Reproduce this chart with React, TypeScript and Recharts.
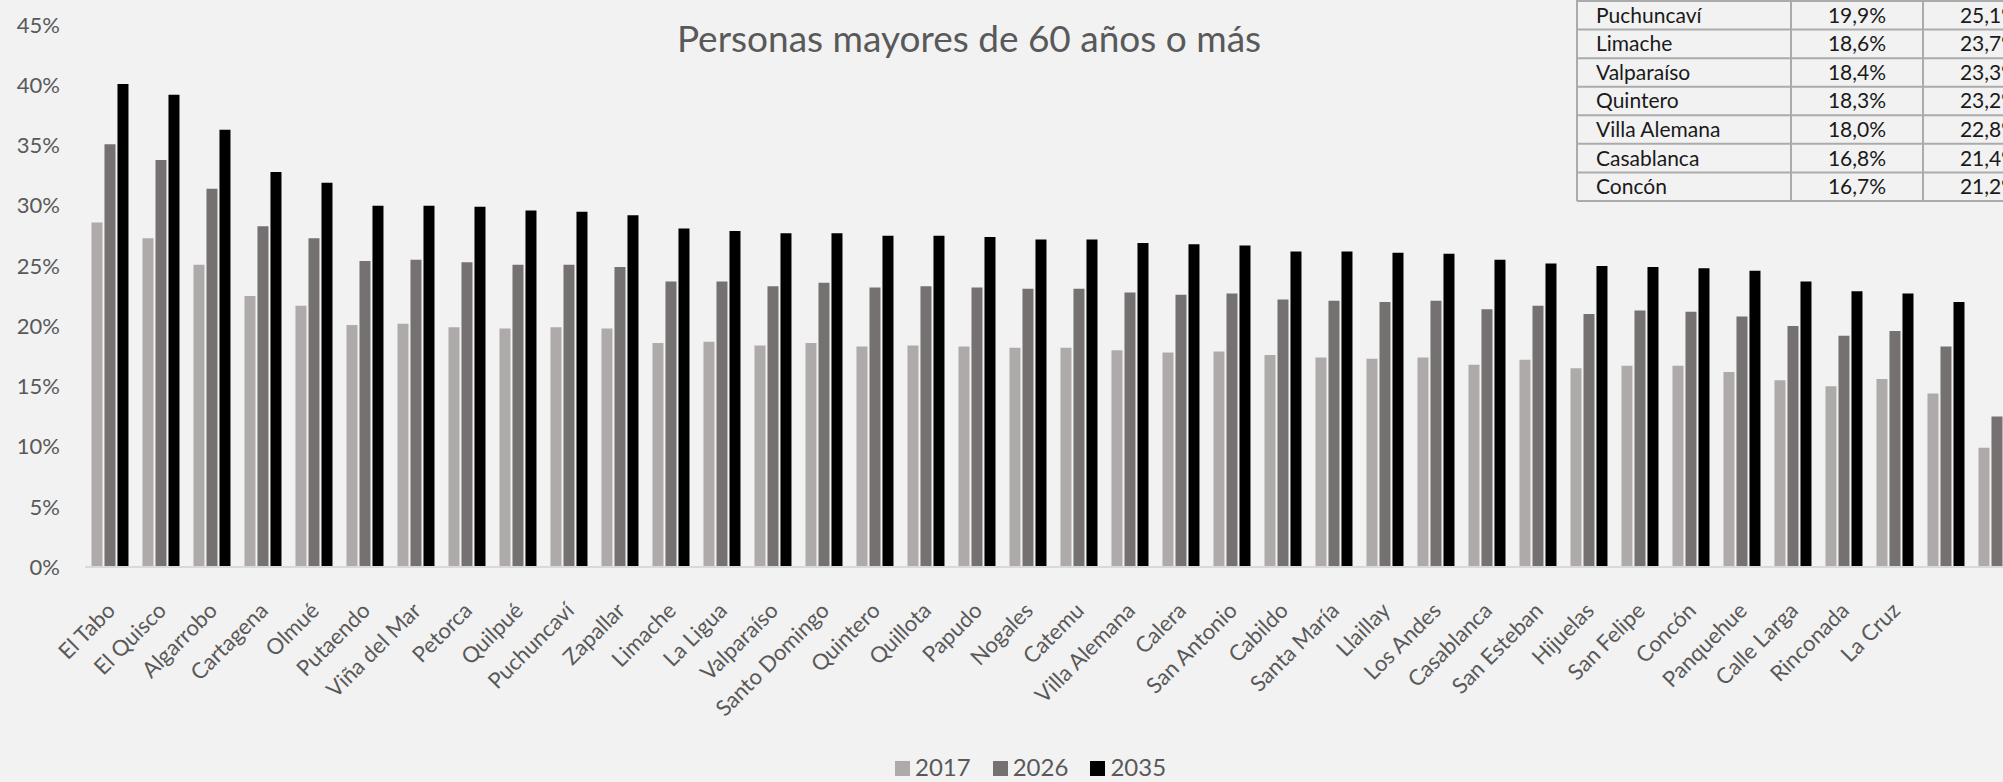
import React from "react";
import { BarChart, Bar, XAxis, YAxis, Legend } from "recharts";

const categories = [
  "El Tabo", "El Quisco", "Algarrobo", "Cartagena", "Olmué", "Putaendo", "Viña del Mar", "Petorca",
  "Quilpué", "Puchuncaví", "Zapallar", "Limache", "La Ligua", "Valparaíso", "Santo Domingo", "Quintero",
  "Quillota", "Papudo", "Nogales", "Catemu", "Villa Alemana", "Calera", "San Antonio", "Cabildo",
  "Santa María", "Llaillay", "Los Andes", "Casablanca", "San Esteban", "Hijuelas", "San Felipe", "Concón",
  "Panquehue", "Calle Larga", "Rinconada", "La Cruz", "", "",
];
const values2017 = [
  28.6, 27.3, 25.1, 22.5, 21.7, 20.1, 20.2, 19.9, 19.8, 19.9, 19.8, 18.6, 18.7, 18.4, 18.6, 18.3,
  18.4, 18.3, 18.2, 18.2, 18.0, 17.8, 17.9, 17.6, 17.4, 17.3, 17.4, 16.8, 17.2, 16.5, 16.7, 16.7,
  16.2, 15.5, 15.0, 15.6, 14.4, 9.9,
];
const values2026 = [
  35.1, 33.8, 31.4, 28.3, 27.3, 25.4, 25.5, 25.3, 25.1, 25.1, 24.9, 23.7, 23.7, 23.3, 23.6, 23.2,
  23.3, 23.2, 23.1, 23.1, 22.8, 22.6, 22.7, 22.2, 22.1, 22.0, 22.1, 21.4, 21.7, 21.0, 21.3, 21.2,
  20.8, 20.0, 19.2, 19.6, 18.3, 12.5,
];
const values2035 = [
  40.1, 39.2, 36.3, 32.8, 31.9, 30.0, 30.0, 29.9, 29.6, 29.5, 29.2, 28.1, 27.9, 27.7, 27.7, 27.5,
  27.5, 27.4, 27.2, 27.2, 26.9, 26.8, 26.7, 26.2, 26.2, 26.1, 26.0, 25.5, 25.2, 25.0, 24.9, 24.8,
  24.6, 23.7, 22.9, 22.7, 22.0, 15.8,
];
const yTicks = [0, 5, 10, 15, 20, 25, 30, 35, 40, 45];

const tableNames = ["Puchuncaví", "Limache", "Valparaíso", "Quintero", "Villa Alemana", "Casablanca", "Concón"];
const table2017 = ["19,9%", "18,6%", "18,4%", "18,3%", "18,0%", "16,8%", "16,7%"];
const table2026 = ["25,1%", "23,7%", "23,3%", "23,2%", "22,8%", "21,4%", "21,2%"];

const title = "Personas mayores de 60 años o más";

const data = categories.map((name, i) => ({
  name,
  y2017: values2017[i],
  y2026: values2026[i],
  y2035: values2035[i],
}));

const FONT = "Lato, 'Open Sans', sans-serif";
const TEXT = "#595959";

const CategoryTick = (props: any) => {
  const { x, y, payload } = props;
  return (
    <g transform={`translate(${x + 6},${y + 45})`}>
      <text textAnchor="end" transform="rotate(-45)" fill={TEXT} fontSize={22} fontFamily={FONT}>
        {payload.value}
      </text>
    </g>
  );
};

const LegendContent = (props: any) => {
  const { payload } = props;
  return (
    <div style={{ display: "flex", alignItems: "center", fontFamily: FONT, fontSize: 24, lineHeight: "24px", color: TEXT }}>
      {(payload || []).map((entry: any) => (
        <div key={entry.value} style={{ display: "flex", alignItems: "center", marginRight: 22 }}>
          <div style={{ width: 15, height: 15, background: entry.color, marginRight: 5, marginTop: 2 }} />
          <span>{entry.value}</span>
        </div>
      ))}
    </div>
  );
};

const rowTop = 1;
const rowH = 28.57;
const colX = [1577, 1791, 1923, 2055];

export default function App() {
  return (
    <div
      style={{
        position: "fixed",
        left: 0,
        top: 0,
        width: 2003,
        height: 782,
        overflow: "hidden",
        background: "#f2f2f2",
      }}
    >
      <BarChart
        width={2043}
        height={782}
        data={data}
        margin={{ top: 25, right: 20, bottom: 0, left: 0 }}
        barCategoryGap="12.7%"
        barGap={2}
      >
        <YAxis
          type="number"
          domain={[0, 45]}
          ticks={yTicks}
          width={85}
          axisLine={false}
          tickLine={false}
          tickSize={0}
          tickMargin={25}
          tickFormatter={(v: number) => `${v}%`}
          tick={{ fill: TEXT, fontSize: 22, fontFamily: FONT }}
        />
        <XAxis
          dataKey="name"
          height={215}
          interval={0}
          tickLine={false}
          tickSize={0}
          tickMargin={0}
          axisLine={{ stroke: "#d9d9d9", strokeWidth: 2 }}
          tick={<CategoryTick />}
        />
        <Legend
          layout="horizontal"
          verticalAlign="middle"
          align="center"
          content={<LegendContent />}
          wrapperStyle={{ position: "absolute", top: 755, left: 895, width: "auto" }}
        />
        <Bar dataKey="y2017" name="2017" fill="#aeaaaa" isAnimationActive={false} />
        <Bar dataKey="y2026" name="2026" fill="#767171" isAnimationActive={false} />
        <Bar dataKey="y2035" name="2035" fill="#000000" isAnimationActive={false} />
      </BarChart>
      <svg
        width={2003}
        height={782}
        style={{ position: "absolute", left: 0, top: 0, pointerEvents: "none" }}
      >
        <text x={969} y={52} textAnchor="middle" fill={TEXT} fontSize={37} fontFamily={FONT}>
          {title}
        </text>
        {tableNames.map((n, r) => {
          const mid = rowTop + rowH * r + rowH / 2;
          return (
            <g key={n}>
              <text x={1596} y={mid + 7.5} fill="#1a1a1a" fontSize={21} fontFamily={FONT}>
                {n}
              </text>
              <text x={(colX[1] + colX[2]) / 2} y={mid + 7.5} textAnchor="middle" fill="#1a1a1a" fontSize={21} fontFamily={FONT}>
                {table2017[r]}
              </text>
              <text x={(colX[2] + colX[3]) / 2} y={mid + 7.5} textAnchor="middle" fill="#1a1a1a" fontSize={21} fontFamily={FONT}>
                {table2026[r]}
              </text>
            </g>
          );
        })}
        {Array.from({ length: tableNames.length + 1 }, (_, r) => (
          <line key={`h${r}`} x1={colX[0]} x2={2010} y1={rowTop + rowH * r} y2={rowTop + rowH * r} stroke="#ababab" strokeWidth={2} />
        ))}
        {colX.slice(0, 3).map((x) => (
          <line key={`v${x}`} x1={x} x2={x} y1={0} y2={rowTop + rowH * tableNames.length} stroke="#ababab" strokeWidth={2} />
        ))}
      </svg>
    </div>
  );
}
